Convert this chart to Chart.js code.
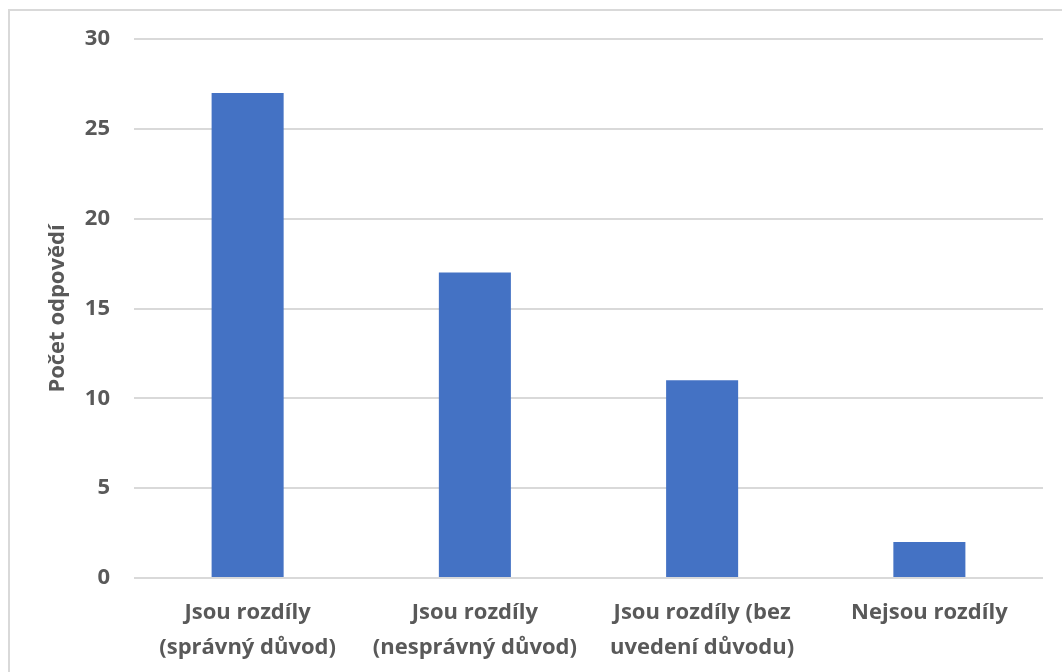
<!DOCTYPE html>
<html>
<head>
<meta charset="utf-8">
<script src="https://cdn.jsdelivr.net/npm/chart.js@4"></script>
<style>
  body { margin: 0; background: #fff; overflow: hidden; }
  .frame { position: absolute; left: 8px; top: 9px; width: 1100px; height: 700px; border: 2px solid #d9d9d9; box-sizing: border-box; }
  .chart-box { position: absolute; left: 0; top: 0; width: 1062px; height: 672px; }
</style>
</head>
<body>
<div class="frame"></div>
<div class="chart-box"><canvas id="barChartCanvas"></canvas></div>
<script>
// values
const categories = [
  ['Jsou rozdíly', '(správný důvod)'],
  ['Jsou rozdíly', '(nesprávný důvod)'],
  ['Jsou rozdíly (bez', 'uvedení důvodu)'],
  'Nejsou rozdíly'
];
const answers = [27, 17, 11, 2];
const yTicks = [0, 5, 10, 15, 20, 25, 30];

const textColor = '#595959';
const fontFamily = '"Open Sans", "Noto Sans", sans-serif';

const ctx = document.getElementById('barChartCanvas').getContext('2d');
new Chart(ctx, {
  type: 'bar',
  data: {
    labels: categories,
    datasets: [{
      label: 'Počet odpovědí',
      data: answers,
      backgroundColor: '#4472c4',
      barPercentage: 0.317,
      categoryPercentage: 1
    }]
  },
  options: {
    responsive: true,
    maintainAspectRatio: false,
    animation: false,
    layout: { padding: { top: 39, right: 19, left: 0, bottom: 0 } },
    plugins: {
      legend: { display: false },
      tooltip: { enabled: false }
    },
    scales: {
      x: {
        grid: { display: false, drawTicks: false },
        border: { display: false },
        ticks: {
          color: textColor,
          padding: 17,
          maxRotation: 0,
          font: { family: fontFamily, size: 22, weight: 'bold', lineHeight: 1.6 }
        },
        afterFit: (scale) => { scale.height = 94; }
      },
      y: {
        min: 0,
        max: 30,
        afterBuildTicks: (scale) => { scale.ticks = yTicks.map(v => ({ value: v })); },
        grid: { color: '#d9d9d9', lineWidth: 2, drawTicks: false },
        border: { display: false },
        ticks: {
          color: textColor,
          padding: 24,
          font: { family: fontFamily, size: 22, weight: 'bold' }
        },
        title: {
          display: true,
          text: 'Počet odpovědí',
          color: textColor,
          padding: { top: 45, bottom: 0 },
          font: { family: fontFamily, size: 22, weight: 'bold' }
        },
        afterFit: (scale) => { scale.width = 134; }
      }
    }
  }
});
</script>
</body>
</html>
